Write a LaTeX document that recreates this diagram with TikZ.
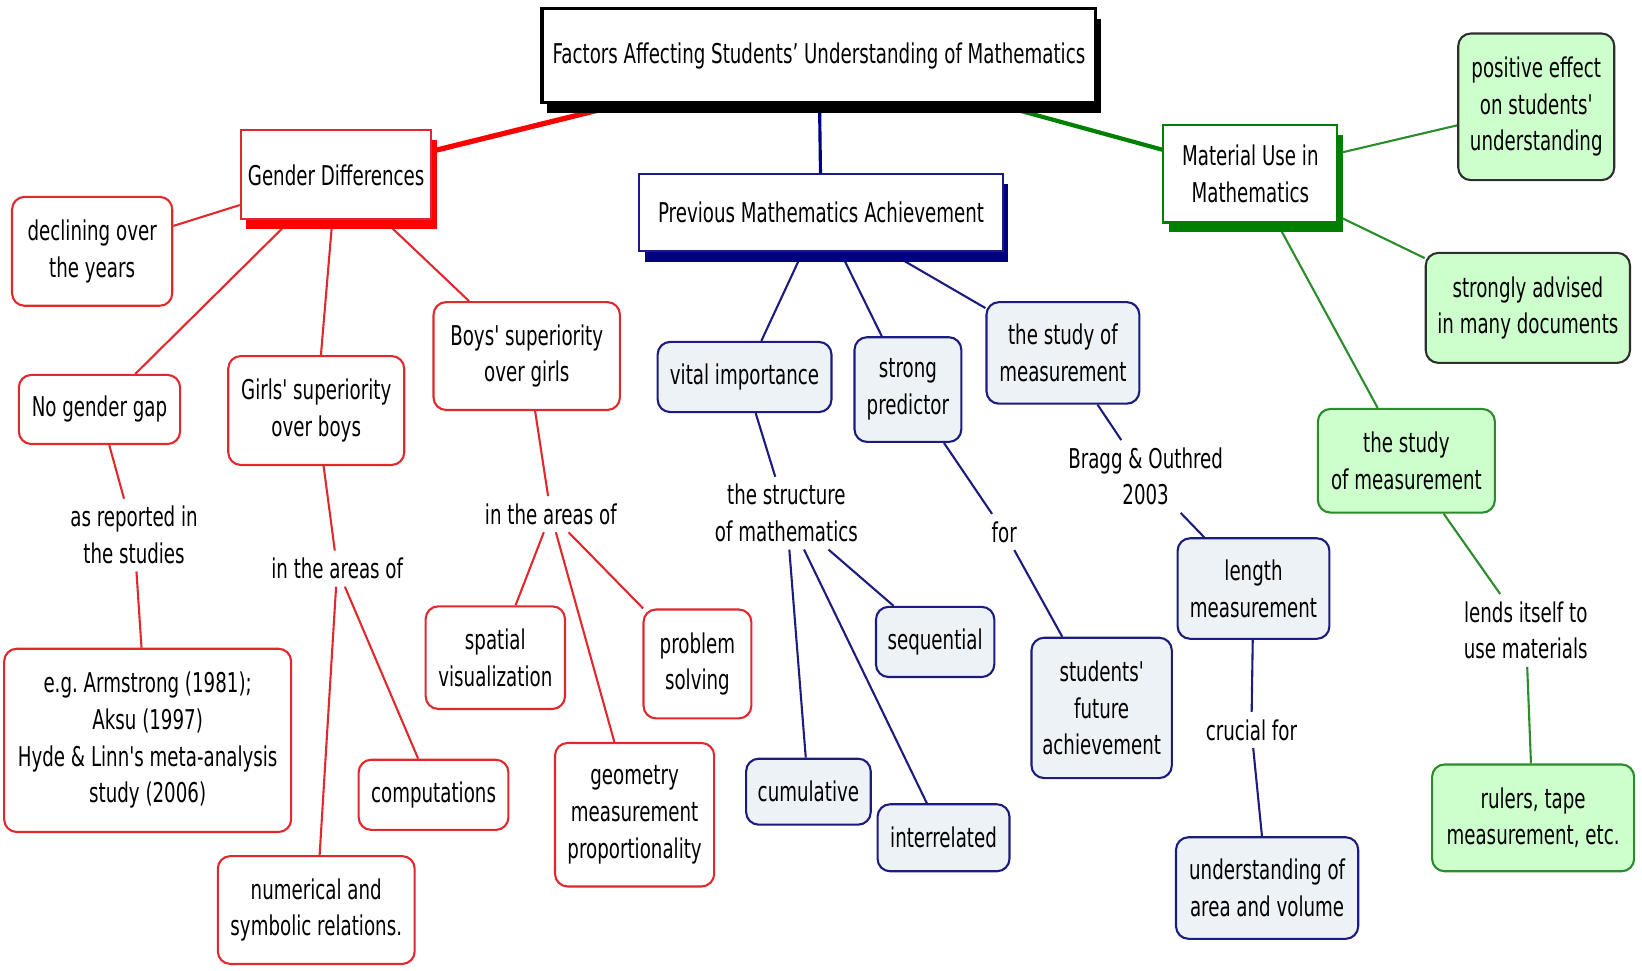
\documentclass[tikz,border=0pt]{standalone}
\usepackage{fontspec}
\newfontfamily\cmapfont{DejaVu Sans}[FakeStretch=0.67]
\usetikzlibrary{shadows,backgrounds}

\definecolor{cred}{HTML}{E0282D}
\definecolor{shred}{HTML}{FF0000}
\definecolor{cnavy}{HTML}{1C1C7E}
\definecolor{shnavy}{HTML}{000080}
\definecolor{navyfill}{HTML}{ECF2F5}
\definecolor{cgreen}{HTML}{2A8C2A}
\definecolor{shgreen}{HTML}{008000}
\definecolor{gfill}{HTML}{CCFFCC}
\definecolor{gborder}{HTML}{2E2E2E}

\tikzset{
  base/.style={font=\cmapfont\fontsize{26}{35}\selectfont, align=center, inner sep=2pt},
  sz/.style 2 args={minimum width=#1, minimum height=#2},
  mainbox/.style={base, rectangle, fill=white, line width=2pt},
  titlebox/.style={mainbox, draw=black, line width=3pt,
    drop shadow={fill=black, opacity=1, shadow xshift=5pt, shadow yshift=-10pt}},
  redmain/.style={mainbox, draw=cred,
    drop shadow={fill=shred, opacity=1, shadow xshift=5pt, shadow yshift=-9pt}},
  navymain/.style={mainbox, draw=cnavy,
    drop shadow={fill=shnavy, opacity=1, shadow xshift=5pt, shadow yshift=-10pt}},
  greenmain/.style={mainbox, draw=shgreen,
    drop shadow={fill=shgreen, opacity=1, shadow xshift=5pt, shadow yshift=-9pt}},
  rbox/.style={base, rectangle, rounded corners=12pt, line width=2pt, fill=white, draw=cred},
  nbox/.style={base, rectangle, rounded corners=12pt, line width=2pt, fill=navyfill, draw=cnavy},
  gbox/.style={base, rectangle, rounded corners=12pt, line width=2pt, fill=gfill, draw=cgreen},
  gdbox/.style={gbox, draw=gborder},
  lbl/.style={base, inner sep=7pt},
  rline/.style={draw=cred, line width=2pt},
  nline/.style={draw=cnavy, line width=2pt},
  gline/.style={draw=cgreen, line width=2pt},
}

\begin{document}
\begin{tikzpicture}[x=1pt, y=-1pt]
\useasboundingbox (0,0) rectangle (1568,927);

% central concept and the three main branches
\node[titlebox, sz={529}{90}] (title) at (782,53) {Factors Affecting Students’ Understanding of Mathematics};
\node[redmain, sz={182}{85}] (gd) at (321,167) {Gender Differences};
\node[navymain, sz={347}{74}] (pma) at (784,203) {Previous Mathematics Achievement};
\node[greenmain, sz={166}{93}] (mu) at (1194,166) {Material Use in\\Mathematics};

% gender differences
\node[rbox, sz={153}{104}] (decl) at (88,240) {declining over\\the years};
\node[rbox, sz={154}{66}] (nogap) at (95,391) {No gender gap};
\node[rbox, sz={168}{104}] (girls) at (302,392) {Girls' superiority\\over boys};
\node[rbox, sz={178}{103}] (boys) at (503,340) {Boys' superiority\\over girls};
\node[lbl] (reported) at (128,511) {as reported in\\the studies};
\node[rbox, sz={274}{175}] (eg) at (141,707) {e.g.\ Armstrong (1981);\\Aksu (1997)\\Hyde \& Linn's meta-analysis\\study (2006)};
\node[lbl] (areasG) at (322,543) {in the areas of};
\node[rbox, sz={143}{67}] (comp) at (414,759) {computations};
\node[rbox, sz={188}{103}] (numer) at (302,869) {numerical and\\symbolic relations.};
\node[lbl] (areasB) at (526,491) {in the areas of};
\node[rbox, sz={133}{98}] (spatial) at (473,628) {spatial\\visualization};
\node[rbox, sz={103}{104}] (problem) at (666,634) {problem\\solving};
\node[rbox, sz={152}{137}] (geom) at (606,778) {geometry\\measurement\\proportionality};

% previous achievement
\node[nbox, sz={166}{67}] (vital) at (711,360) {vital importance};
\node[nbox, sz={102}{100}] (strong) at (867,372) {strong\\predictor};
\node[nbox, sz={146}{97}] (studyn) at (1015,337) {the study of\\measurement};
\node[lbl] (struct) at (751,490) {the structure\\of mathematics};
\node[nbox, sz={113}{67}] (seq) at (893,613) {sequential};
\node[nbox, sz={119}{63}] (cum) at (772,756) {cumulative};
\node[nbox, sz={126}{64}] (inter) at (901,800) {interrelated};
\node[lbl] (for) at (959,508) {for};
\node[nbox, sz={134}{134}] (future) at (1052,676) {students'\\future\\achievement};
\node[lbl] (bragg) at (1094,455) {Bragg \& Outhred\\2003};
\node[nbox, sz={145}{96}] (length) at (1197,562) {length\\measurement};
\node[lbl] (crucial) at (1195,697) {crucial for};
\node[nbox, sz={174}{97}] (area) at (1210,848) {understanding of\\area and volume};

% material use
\node[gdbox, sz={149}{140}] (positive) at (1467,102) {positive effect\\on students'\\understanding};
\node[gdbox, sz={195}{105}] (advised) at (1459,294) {strongly advised\\in many documents};
\node[gbox, sz={169}{99}] (studyg) at (1343,440) {the study\\of measurement};
\node[lbl] (lends) at (1457,602) {lends itself to\\use materials};
\node[gbox, sz={193}{102}] (rulers) at (1464,781) {rulers, tape\\measurement, etc.};

\begin{scope}[on background layer]
  \draw[draw=shred, line width=5pt] (title) -- (gd);
  \draw[draw=shnavy, line width=3pt] (title) -- (pma);
  \draw[draw=shgreen, line width=4pt] (title) -- (mu);

  \draw[rline] (gd) -- (decl);
  \draw[rline] (gd) -- (nogap);
  \draw[rline] (gd) -- (girls);
  \draw[rline] (gd) -- (boys);
  \draw[rline] (nogap) -- (reported);
  \draw[rline] (reported) -- (eg);
  \draw[rline] (girls) -- (areasG);
  \draw[rline] (areasG) -- (numer);
  \draw[rline] (areasG) -- (comp);
  \draw[rline] (boys) -- (areasB);
  \draw[rline] (areasB) -- (spatial);
  \draw[rline] (areasB) -- (geom);
  \draw[rline] (areasB) -- (problem);

  \draw[nline] (pma) -- (vital);
  \draw[nline] (pma) -- (strong);
  \draw[nline] (pma) -- (studyn);
  \draw[nline] (vital) -- (struct);
  \draw[nline] (struct) -- (cum);
  \draw[nline] (struct) -- (inter);
  \draw[nline] (struct) -- (seq);
  \draw[nline] (strong) -- (for);
  \draw[nline] (for) -- (future);
  \draw[nline] (studyn) -- (bragg);
  \draw[nline] (bragg) -- (length);
  \draw[nline] (length) -- (crucial);
  \draw[nline] (crucial) -- (area);

  \draw[gline] (mu) -- (positive);
  \draw[gline] (mu) -- (advised);
  \draw[gline] (mu) -- (studyg);
  \draw[gline] (studyg) -- (lends);
  \draw[gline] (lends) -- (rulers);
\end{scope}
\end{tikzpicture}
\end{document}
